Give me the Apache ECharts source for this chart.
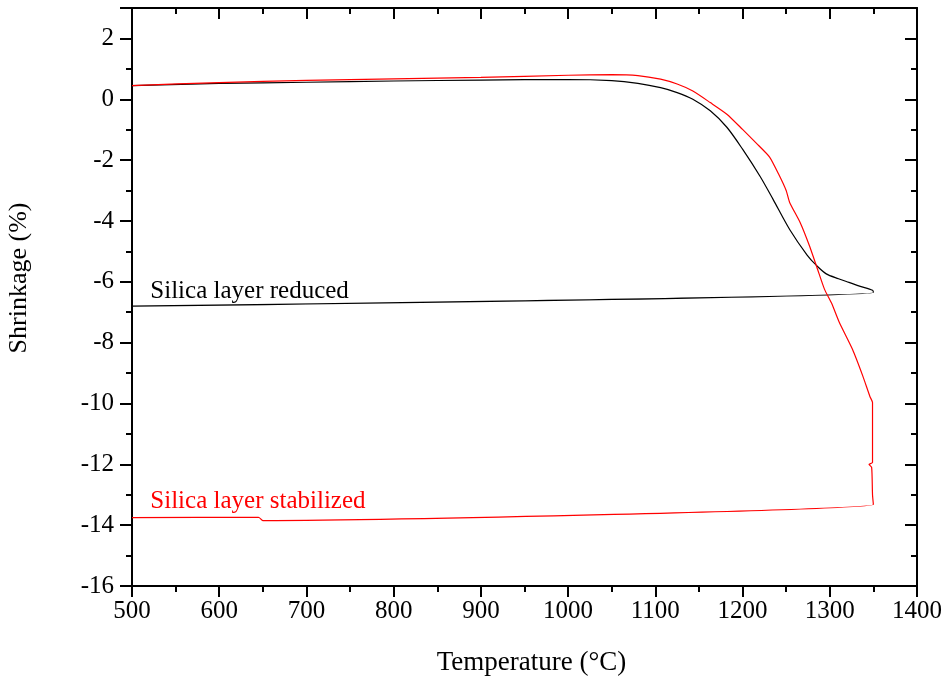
<!DOCTYPE html>
<html>
<head>
    <title>Shrinkage</title>
    <script src="https://cdn.jsdelivr.net/npm/echarts@6/dist/echarts.min.js"></script>
</head>
<body style="margin:0">
<div id="chart" style="width: 947px; height: 677px;"></div>

<script>
    // silica layer reduced (black): heating then cooling
    var reducedT = [500, 600, 700, 800, 900, 1000, 1050, 1080, 1106, 1125, 1143, 1163, 1182, 1200, 1220, 1235, 1254, 1274, 1285, 1296, 1310, 1322, 1335, 1349, 1350, 500];
    var reducedV = [0.45, 0.52, 0.56, 0.6, 0.63, 0.65, 0.61, 0.52, 0.38, 0.22, 0.0, -0.38, -0.92, -1.64, -2.53, -3.29, -4.28, -5.12, -5.47, -5.74, -5.9, -6.02, -6.15, -6.28, -6.35, -6.8];

    // silica layer stabilized (red)
    var stabilizedT = [500, 600, 700, 800, 900, 1000, 1050, 1080, 1106, 1125, 1143, 1163, 1182, 1200, 1216, 1231, 1242, 1250, 1254, 1266, 1277, 1286, 1294, 1302, 1311, 1326, 1338, 1346, 1349, 1349, 1345, 1348, 1349, 1350, 650, 645, 500];
    var stabilizedV = [0.45, 0.55, 0.62, 0.67, 0.72, 0.79, 0.81, 0.78, 0.66, 0.5, 0.27, -0.11, -0.49, -0.99, -1.45, -1.9, -2.5, -3.0, -3.39, -4.05, -4.84, -5.59, -6.25, -6.7, -7.34, -8.22, -9.11, -9.77, -9.97, -11.94, -12.0, -12.1, -13.0, -13.32, -13.85, -13.74, -13.75];

    var xTicks = [500, 1400, 100];
    var yTicks = [-16, 3, 2];

    function pairs(xs, ys) {
        return xs.map(function (x, i) { return [x, ys[i]]; });
    }

    var font = 'Liberation Serif';
    var chart = echarts.init(document.getElementById('chart'));

    var axisLine = { show: true, onZero: false, lineStyle: { color: '#000', width: 2 } };

    chart.setOption({
        animation: false,
        grid: { left: 132, right: 30, top: 8, bottom: 91, outerBoundsMode: 'none' },
        xAxis: [{
            type: 'value',
            min: xTicks[0], max: xTicks[1], interval: xTicks[2],
            name: 'Temperature (°C)',
            nameLocation: 'middle',
            nameGap: 63,
            nameTextStyle: { fontFamily: font, fontSize: 27, color: '#000', padding: [0, 0, 0, 14] },
            axisLine: axisLine,
            axisTick: { show: true, inside: false, length: 11, lineStyle: { color: '#000', width: 2 } },
            minorTick: { show: true, splitNumber: 2, length: 6, lineStyle: { color: '#000', width: 2 } },
            axisLabel: { fontFamily: font, fontSize: 25, color: '#000', margin: 13, formatter: function (v) { return String(v); } },
            splitLine: { show: false }
        }, {
            type: 'value', position: 'top',
            min: xTicks[0], max: xTicks[1], interval: xTicks[2],
            axisLine: axisLine,
            axisTick: { show: true, inside: true, length: 11, lineStyle: { color: '#000', width: 2 } },
            minorTick: { show: true, splitNumber: 2, length: 6, lineStyle: { color: '#000', width: 2 } },
            axisLabel: { show: false },
            splitLine: { show: false }
        }],
        yAxis: [{
            type: 'value',
            min: yTicks[0], max: yTicks[1], interval: yTicks[2],
            name: 'Shrinkage (%)',
            nameLocation: 'middle',
            nameGap: 100,
            nameTextStyle: { fontFamily: font, fontSize: 26, color: '#000', padding: [0, 0, 0, 38] },
            axisLine: axisLine,
            axisTick: { show: true, inside: false, length: 12, lineStyle: { color: '#000', width: 2 } },
            minorTick: { show: true, splitNumber: 2, length: 6, lineStyle: { color: '#000', width: 2 } },
            axisLabel: {
                fontFamily: font, fontSize: 25, color: '#000', margin: 18,
                formatter: function (v) { return v === 3 ? '' : String(v); }
            },
            splitLine: { show: false }
        }, {
            type: 'value', position: 'right',
            min: yTicks[0], max: yTicks[1], interval: yTicks[2],
            axisLine: axisLine,
            axisTick: { show: true, inside: true, length: 12, lineStyle: { color: '#000', width: 2 } },
            minorTick: { show: true, splitNumber: 2, length: 6, lineStyle: { color: '#000', width: 2 } },
            axisLabel: { show: false },
            splitLine: { show: false }
        }],
        series: [{
            name: 'Silica layer reduced',
            type: 'line',
            data: pairs(reducedT, reducedV),
            showSymbol: false,
            smooth: 0.3,
            lineStyle: { color: '#000', width: 1.2 },
            markPoint: {
                symbol: 'circle', symbolSize: 0,
                data: [{ coord: [521, -6.32] }],
                label: { show: true, position: 'right', distance: 0, formatter: 'Silica layer reduced', fontFamily: font, fontSize: 25, color: '#000' }
            }
        }, {
            name: 'Silica layer stabilized',
            type: 'line',
            data: pairs(stabilizedT, stabilizedV),
            showSymbol: false,
            smooth: 0.2,
            lineStyle: { color: '#ff0000', width: 1.2 },
            markPoint: {
                symbol: 'circle', symbolSize: 0,
                data: [{ coord: [521, -13.22] }],
                label: { show: true, position: 'right', distance: 0, formatter: 'Silica layer stabilized', fontFamily: font, fontSize: 25, color: '#ff0000' }
            }
        }]
    });
</script>
</body>
</html>
